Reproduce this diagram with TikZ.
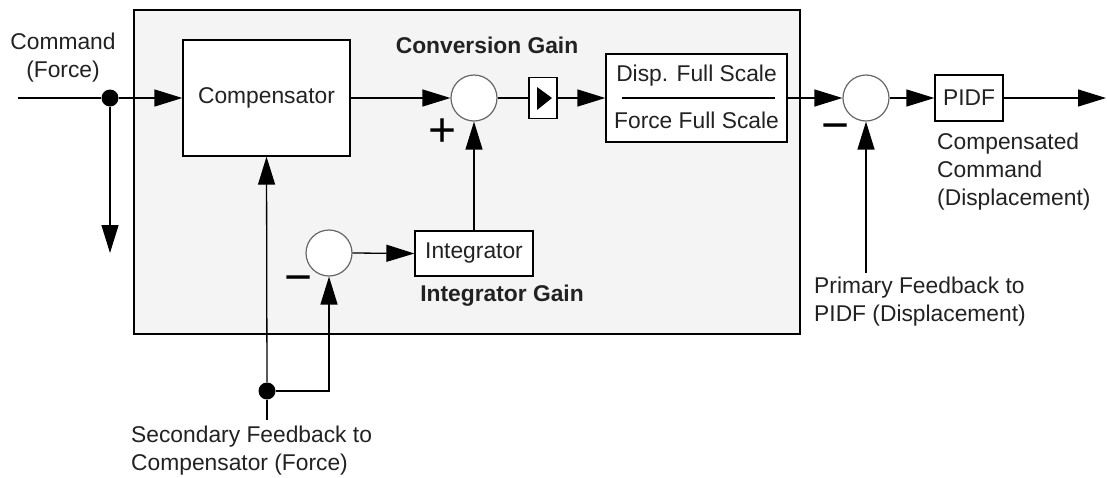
\documentclass[tikz,border=0pt]{standalone}
\usepackage{fontspec}
\setmainfont{Liberation Sans}
\usetikzlibrary{arrows.meta}
\definecolor{panel}{HTML}{F4F4F4}
\definecolor{ink}{HTML}{222222}
\definecolor{ring}{HTML}{666666}
\begin{document}
\begin{tikzpicture}[x=1pt,y=-1pt,
  every node/.style={font=\fontsize{22.8}{28}\selectfont, text=ink},
  wire/.style={line width=1.3pt, draw=black},
  flow/.style={wire, -{Triangle[length=28pt,width=17pt]}},
  blk/.style={draw=black, line width=1.3pt, fill=white, rectangle, inner sep=0pt},
  sumnode/.style={circle, draw=ring, line width=1.2pt, fill=white, minimum size=46pt, inner sep=0pt},
  junction/.style={circle, fill=black, minimum size=17pt, inner sep=0pt},
  sign/.style={font=\fontsize{48}{48}\selectfont, inner sep=0pt, text=black},
  lbl/.style={align=left, inner sep=0pt},
  bold/.style={font=\fontsize{22.8}{28}\selectfont\bfseries, inner sep=0pt}
]
\useasboundingbox (0,0) rectangle (1107,477);
\fill[white] (0,0) rectangle (1107,477);
% panel
\draw[fill=panel, line width=1.3pt] (134,10) rectangle (800,334);

% blocks
\node[blk, minimum width=167pt, minimum height=116pt] (comp) at (266.5,98) {Compensator};
\node[sumnode] (sum1) at (474,98) {};
\node[blk, minimum width=28pt, minimum height=41pt] (gain) at (543,98) {};
\node[blk, minimum width=181pt, minimum height=88pt] (frac) at (696.5,98) {};
\node[inner sep=0pt] (fnum) at (696.5,76) {Disp. Full Scale};
\node[inner sep=0pt] (fden) at (696.5,120) {Force Full Scale};
\node[sumnode] (sum3) at (866,98) {};
\node[blk, minimum width=68pt, minimum height=46pt] (pidf) at (969,98) {PIDF};
\node[sumnode] (sum2) at (329,253) {};
\node[blk, minimum width=118pt, minimum height=45pt] (integ) at (474,253.5) {Integrator};
\node[junction] (dot1) at (110,98) {};
\node[junction] (dot2) at (267,391) {};

% fraction bar and gain triangle
\draw[line width=1.2pt] (622,98) -- (775,98);
\fill[black] (537,87) -- (552,98) -- (537,110) -- cycle;

% free ends
\coordinate (in0) at (18,98);
\coordinate (down1) at (110,253);
\coordinate (out0) at (1106,98);
\coordinate (fb1) at (866,273);
\coordinate (fb2) at (267,420);

% connectors
\draw[wire] (in0) -- (dot1);
\draw[flow] (dot1) -- (comp.west);
\draw[flow] (dot1) -- (down1);
\draw[flow] (comp.east) -- (sum1.west);
\draw[wire] (sum1.east) -- (gain.west);
\draw[flow] (gain.east) -- (frac.west);
\draw[flow] (frac.east) -- (sum3.west);
\draw[flow] (sum3.east) -- (pidf.west);
\draw[flow] (pidf.east) -- (out0);
\draw[flow] (fb1) -- (sum3.south);
\draw[flow] (integ.north) -- (sum1.south);
\draw[flow] (sum2.east) -- (integ.west);
\draw[wire] (fb2) -- (dot2);
\draw[flow] (dot2) -- (comp.south);
\draw[flow] (dot2) -| (sum2.south);

% signs
\node[sign] (plus1) at (443,133) {+};
\node[sign] (minus2) at (299,285) {−};
\node[sign] (minus3) at (836,133) {−};

% labels
\node[align=center, inner sep=0pt] (lcmd) at (63,58) {Command\\(Force)};
\node[bold] (lconv) at (487,45) {Conversion Gain};
\node[bold] (lint) at (502,296) {Integrator Gain};
\node[lbl, anchor=west] (lcc) at (937,172) {Compensated\\Command\\(Displacement)};
\node[lbl, anchor=west] (lpf) at (814,302) {Primary Feedback to\\PIDF (Displacement)};
\node[lbl, anchor=west] (lsf) at (131,451) {Secondary Feedback to\\Compensator (Force)};
\end{tikzpicture}
\end{document}
